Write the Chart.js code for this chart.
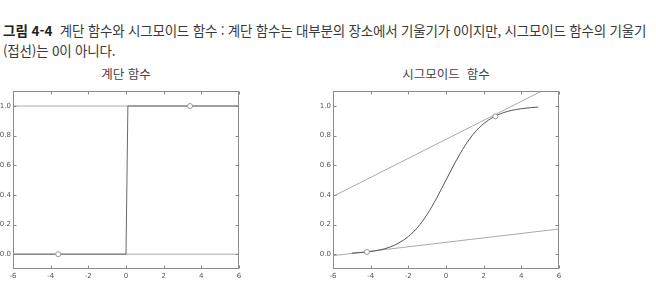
<!DOCTYPE html>
<html lang="ko">
<head>
<meta charset="utf-8">
<script src="https://cdn.jsdelivr.net/npm/chart.js@4"></script>
<style>
  html, body { margin: 0; padding: 0; background: #fff; }
  body { width: 656px; height: 291px; position: relative; overflow: hidden;
         font-family: "Noto Sans CJK KR", "Noto Sans", sans-serif; color: #333; }
  .cap { position: absolute; left: 3px; font-size: 13.5px; white-space: nowrap; letter-spacing: -0.2px; color: #3a3a3a; }
  .cap b { color: #222; font-weight: 700; letter-spacing: 0; }
  .ttl { position: absolute; top: 64px; font-size: 12.5px; white-space: pre; transform: translateX(-50%); color: #444; }
  canvas { position: absolute; }
</style>
</head>
<body>
<div class="cap" style="top:20px"><b>그림 4-4</b>&nbsp; 계단 함수와 시그모이드 함수 : 계단 함수는 대부분의 장소에서 기울기가 0이지만, 시그모이드 함수의 기울기</div>
<div class="cap" style="top:40px">(접선)는 0이 아니다.</div>
<div class="ttl" style="left:126px">계단 함수</div>
<div class="ttl" style="left:446px">시그모이드  함수</div>
<canvas id="stepChart" width="250" height="206" style="left:0;top:85px;width:250px;height:206px"></canvas>
<canvas id="sigChart" width="260" height="206" style="left:310px;top:85px;width:260px;height:206px"></canvas>
<script>
// Axis ticks shared by both panels
const xTicks = [-6, -4, -2, 0, 2, 4, 6];
const yTicks = [0.0, 0.2, 0.4, 0.6, 0.8, 1.0];

// Step function
const stepX = [-6, 0, 0.1, 6];
const stepY = [0, 0, 1, 1];
// Flat tangents of the step function
const stepTanLowX = [-6, 6];
const stepTanLowY = [0, 0];
const stepTanHighX = [-6, 6];
const stepTanHighY = [1, 1];
// Touching points on the step function
const stepPtX = [-3.6, 3.4];
const stepPtY = [0, 1];

// Sigmoid curve
const sigX = [-5, -4.5, -4, -3.5, -3, -2.5, -2, -1.5, -1, -0.5, 0, 0.5, 1, 1.5, 2, 2.5, 3, 3.5, 4, 4.5, 4.9];
const sigY = [0.007, 0.011, 0.018, 0.029, 0.047, 0.076, 0.119, 0.182, 0.269, 0.378, 0.5, 0.622, 0.731, 0.818, 0.881, 0.924, 0.953, 0.971, 0.982, 0.989, 0.993];
// Tangents of the sigmoid
const sigTanLowX = [-6, 6];
const sigTanLowY = [-0.01, 0.17];
const sigTanHighX = [-6, 6];
const sigTanHighY = [0.39, 1.16];
// Touching points on the sigmoid
const sigPtX = [-4.2, 2.62];
const sigPtY = [0.015, 0.93];

const toXY = (xs, ys) => xs.map((x, i) => ({ x: x, y: ys[i] }));

const lineSet = (xs, ys, color, extra) => Object.assign({
  data: toXY(xs, ys), showLine: true, borderColor: color, borderWidth: 1,
  pointRadius: 0, fill: false, tension: 0
}, extra || {});

const pointSet = (xs, ys) => ({
  data: toXY(xs, ys), showLine: false, pointRadius: 2.5,
  pointBackgroundColor: '#fff', pointBorderColor: '#999', pointBorderWidth: 1
});

// Box around the plot area with inward tick marks on all four sides
const framePlugin = {
  id: 'frame',
  afterDatasetsDraw(chart) {
    const { ctx, chartArea: a, scales } = chart;
    ctx.save();
    ctx.strokeStyle = '#8a8a8a';
    ctx.lineWidth = 1;
    const L = Math.round(a.left) + 0.5, R = Math.round(a.right) - 0.5;
    const T = Math.round(a.top) + 0.5, B = Math.round(a.bottom) - 0.5;
    ctx.strokeRect(L, T, R - L, B - T);
    ctx.beginPath();
    xTicks.forEach(v => {
      const px = Math.round(scales.x.getPixelForValue(v)) + 0.5;
      ctx.moveTo(px, B); ctx.lineTo(px, B - 3);
      ctx.moveTo(px, T); ctx.lineTo(px, T + 3);
    });
    yTicks.forEach(v => {
      const py = Math.round(scales.y.getPixelForValue(v)) + 0.5;
      ctx.moveTo(L, py); ctx.lineTo(L + 3, py);
      ctx.moveTo(R, py); ctx.lineTo(R - 3, py);
    });
    ctx.stroke();
    ctx.restore();
  }
};

function makeOptions(yAxisWidth) {
  const tickFont = { family: 'DejaVu Sans', size: 7 };
  return {
    responsive: false,
    animation: false,
    layout: { padding: { top: 6, right: 11, left: 0, bottom: 0 } },
    plugins: { legend: { display: false }, tooltip: { enabled: false } },
    elements: { line: { borderCapStyle: 'butt' } },
    scales: {
      x: {
        type: 'linear', min: -6, max: 6,
        grid: { display: false, drawTicks: false },
        border: { display: false },
        afterBuildTicks: s => { s.ticks = xTicks.map(v => ({ value: v })); },
        afterFit: s => { s.height = 22; },
        ticks: { color: '#555', font: tickFont, padding: 3, maxRotation: 0,
                 callback: v => String(v) }
      },
      y: {
        type: 'linear', min: -0.1, max: 1.1,
        grid: { display: false, drawTicks: false },
        border: { display: false },
        afterBuildTicks: s => { s.ticks = yTicks.map(v => ({ value: v })); },
        afterFit: s => { s.width = yAxisWidth; },
        ticks: { color: '#555', font: tickFont, padding: 2,
                 callback: v => Number(v).toFixed(1) }
      }
    }
  };
}

new Chart(document.getElementById('stepChart'), {
  type: 'scatter',
  data: { datasets: [
    pointSet(stepPtX, stepPtY),
    lineSet(stepX, stepY, '#6a6a6a'),
    lineSet(stepTanLowX, stepTanLowY, '#aaa'),
    lineSet(stepTanHighX, stepTanHighY, '#aaa')
  ] },
  options: makeOptions(13),
  plugins: [framePlugin]
});

new Chart(document.getElementById('sigChart'), {
  type: 'scatter',
  data: { datasets: [
    pointSet(sigPtX, sigPtY),
    lineSet(sigX, sigY, '#555', { cubicInterpolationMode: 'monotone' }),
    lineSet(sigTanLowX, sigTanLowY, '#aaa'),
    lineSet(sigTanHighX, sigTanHighY, '#aaa')
  ] },
  options: makeOptions(23),
  plugins: [framePlugin]
});
</script>
</body>
</html>
